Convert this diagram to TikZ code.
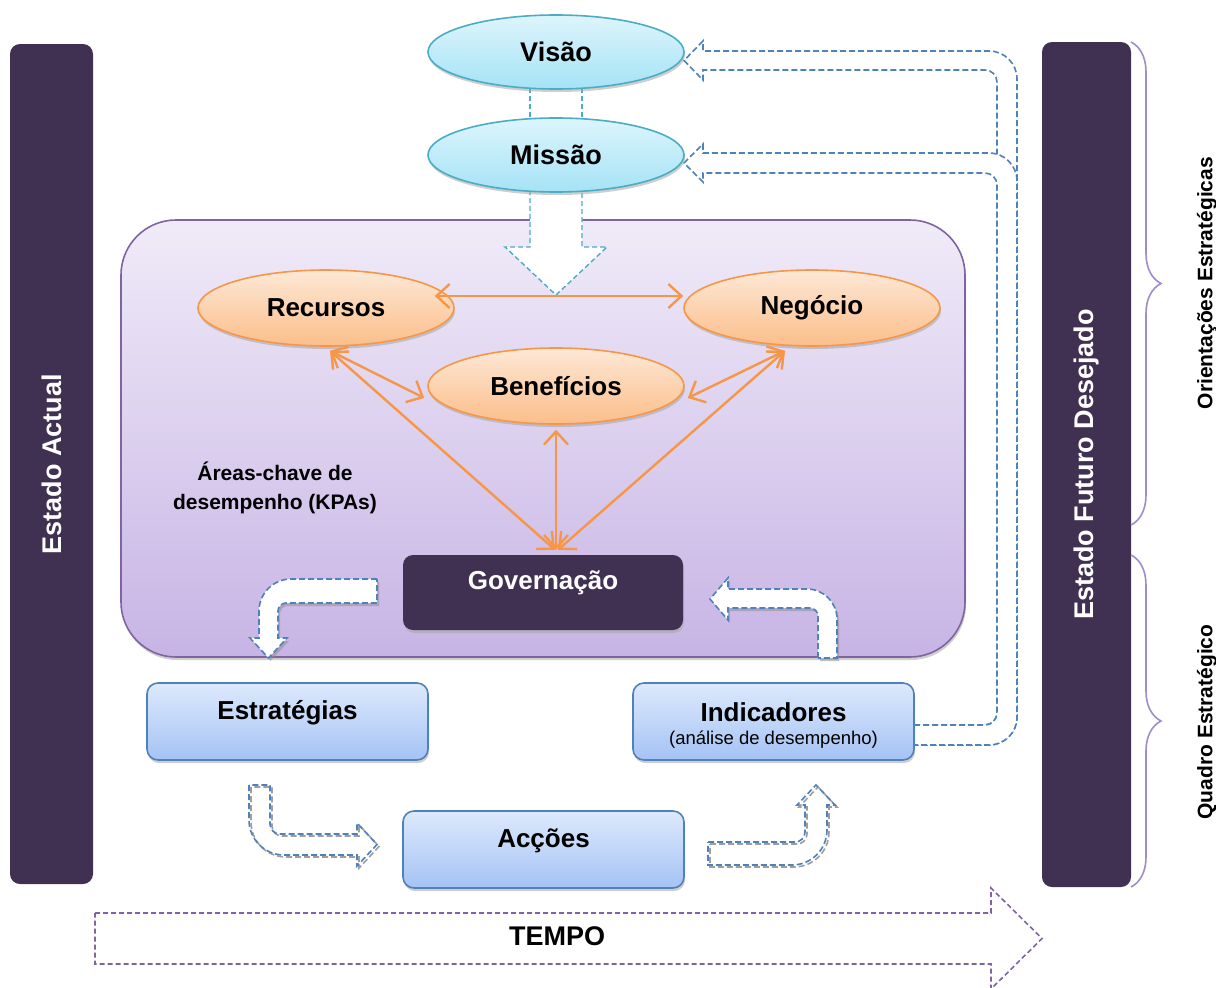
\documentclass[tikz,border=0pt]{standalone}
\usepackage{fontspec}
\setmainfont{Liberation Sans}
\usetikzlibrary{shapes.geometric,shadows,arrows.meta,decorations.pathreplacing}

\definecolor{darkbar}{HTML}{403152}
\definecolor{tealline}{HTML}{4BACC6}
\definecolor{cyantop}{HTML}{DDF5FC}
\definecolor{cyanbot}{HTML}{A5E3F6}
\definecolor{orangeline}{HTML}{F79646}
\definecolor{orangetop}{HTML}{FDE8D6}
\definecolor{orangebot}{HTML}{FBBE8A}
\definecolor{kpaline}{HTML}{8064A2}
\definecolor{kpatop}{HTML}{F0EBF8}
\definecolor{kpabot}{HTML}{C7B4E5}
\definecolor{blueline}{HTML}{4F81BD}
\definecolor{bluetop}{HTML}{DDE9FC}
\definecolor{bluebot}{HTML}{A5C3F5}
\definecolor{braceline}{HTML}{A08CC8}

\newcommand\myfs[2]{\fontsize{#1}{#2}\selectfont}

\begin{document}
\begin{tikzpicture}[x=1pt,y=-1pt,
  softshadow/.style={drop shadow={shadow xshift=1pt, shadow yshift=-3pt, fill=black!35, opacity=.55}},
  statebar/.style={fill=darkbar, rounded corners=10pt, text=white, font=\bfseries\myfs{27}{32}, rotate=90},
  cyanoval/.style={ellipse, draw=tealline, line width=1.6pt, top color=cyantop, bottom color=cyanbot,
    minimum width=256pt, minimum height=74pt, font=\bfseries\myfs{27}{32}, softshadow},
  orangeoval/.style={ellipse, draw=orangeline, line width=1.6pt, top color=orangetop, bottom color=orangebot,
    minimum width=256pt, minimum height=76pt, font=\bfseries\myfs{26}{31}, softshadow},
  bluebox/.style={rectangle, rounded corners=11pt, draw=blueline, line width=1.6pt, top color=bluetop,
    bottom color=bluebot, minimum width=281pt, minimum height=77pt, softshadow},
  boxtext/.style={font=\bfseries\myfs{26}{31}},
  link/.style={draw=orangeline, line width=2.4pt,
    {Straight Barb[length=13pt,width=24pt]}-{Straight Barb[length=13pt,width=24pt]}},
  tealdash/.style={draw=tealline, line width=1.4pt, dash pattern=on 5pt off 3pt},
  bluedash/.style={draw=blueline, line width=1.6pt, dash pattern=on 6pt off 3pt},
  greydash/.style={draw=black!38, line width=1.6pt, dash pattern=on 6pt off 3pt},
  bentarrow/.style={fill=white, bluedash, drop shadow={shadow xshift=2pt, shadow yshift=-3pt, fill=black!45}},
  bracestyle/.style={draw=braceline, line width=1.6pt, decorate, decoration={brace, amplitude=30pt}},
  sidelabel/.style={rotate=90, font=\bfseries\myfs{21}{25}}
]
\useasboundingbox[fill=white] (0,0) rectangle (1216,988);

% ---- side bars ----
\node[statebar, minimum width=840pt, minimum height=83pt] (actual) at (51.5,464) {Estado Actual};
\node[statebar, minimum width=845pt, minimum height=89pt] (futuro) at (1086.5,464.5) {Estado Futuro Desejado};

% ---- braces and their labels ----
\draw[bracestyle] (1131,42) -- (1131,525);
\draw[bracestyle] (1131,555) -- (1131,887);
\node[sidelabel] (ori) at (1207,283) {Orientações Estratégicas};
\node[sidelabel] (quadro) at (1207,722) {Quadro Estratégico};

% ---- key performance areas panel ----
\node[rectangle, rounded corners=55pt, draw=kpaline, line width=1.6pt, top color=kpatop, bottom color=kpabot,
  minimum width=844pt, minimum height=437pt, softshadow] (kpa) at (543,438.5) {};
\node[font=\bfseries\myfs{21}{29}, align=center] (kpalabel) at (275,488) {Áreas-chave de\\desempenho (KPAs)};

% ---- feedback arrows: Indicadores -> Visão / Missão ----
\filldraw[fill=white, bluedash]
  (914,725) -- (985,725) arc[start angle=90, end angle=0, radius=12]
  -- (997,82) arc[start angle=0, end angle=-90, radius=12]
  -- (703,70) -- (703,80) -- (684,60.5) -- (703,41) -- (703,51)
  -- (989,51) arc[start angle=-90, end angle=0, radius=28]
  -- (1017,717) arc[start angle=0, end angle=90, radius=28]
  -- (914,745);
\filldraw[fill=white, bluedash]
  (914,725) -- (985,725) arc[start angle=90, end angle=0, radius=12]
  -- (997,185) arc[start angle=0, end angle=-90, radius=12]
  -- (703,173) -- (703,182) -- (684,163) -- (703,144) -- (703,153)
  -- (989,153) arc[start angle=-90, end angle=0, radius=28]
  -- (1017,717) arc[start angle=0, end angle=90, radius=28]
  -- (914,745);

% ---- Visão / Missão ----
\draw[tealdash] (530,88) -- (530,120);
\draw[tealdash] (582,88) -- (582,120);
\filldraw[fill=white, tealdash]
  (530,190) -- (530,247) -- (505,247) -- (556,295) -- (607,247) -- (582,247) -- (582,190);
\node[cyanoval] (vis) at (556,52) {Visão};
\node[cyanoval] (mis) at (556,155) {Missão};

% ---- areas ----
\node[orangeoval] (rec) at (326,308) {Recursos};
\node[orangeoval] (neg) at (812,308) {Negócio};
\node[orangeoval] (ben) at (556,386) {Benefícios};

% ---- governance ----
\node[rectangle, rounded corners=10pt, fill=darkbar, minimum width=280pt, minimum height=75pt, softshadow] (gov) at (543,592.5) {};
\node[text=white, boxtext] (govtext) at ([yshift=10pt]gov.center) {Governação};

% ---- relations between areas ----
\draw[link] ([shift={(-20,-12)}]rec.east) -- ([shift={(0,-12)}]neg.west);
\draw[link] ([shift={(4,4)}]rec.south) -- ([shift={(-3,12)}]ben.west);
\draw[link] ([shift={(-27,4)}]neg.south) -- ([shift={(3,12)}]ben.east);
\draw[link] ([shift={(0,5)}]ben.south) -- ([shift={(13,-5)}]gov.north);
\draw[link] ([shift={(4,4)}]rec.south) -- ([shift={(12,-5)}]gov.north);
\draw[link] ([shift={(-27,4)}]neg.south) -- ([shift={(15,-5)}]gov.north);

% ---- bent arrows around governance ----
\filldraw[bentarrow]
  (377,579) -- (291,579) arc[start angle=-90, end angle=-180, radius=32]
  -- (259,638) -- (250,638) -- (268.5,658) -- (287,638) -- (278,638)
  -- (278,611) arc[start angle=180, end angle=270, radius=8]
  -- (377,603) -- cycle;
\filldraw[bentarrow]
  (818,658) -- (818,616) arc[start angle=0, end angle=-90, radius=8]
  -- (728,608) -- (728,620) -- (710,599) -- (728,578) -- (728,589)
  -- (807,589) arc[start angle=-90, end angle=0, radius=30]
  -- (837,658) -- cycle;

% ---- strategy, actions, indicators ----
\node[bluebox] (est) at (287.5,721.5) {};
\node[boxtext] (esttext) at ([yshift=9pt]est.center) {Estratégias};
\node[bluebox] (ind) at (773.5,721.5) {};
\node[boxtext] (indtext) at ([yshift=9pt]ind.center) {Indicadores};
\node[font=\myfs{18.5}{22}] (indsub) at ([yshift=-18pt]ind.center) {(análise de desempenho)};
\node[bluebox] (acc) at (543.5,849.5) {};
\node[boxtext] (acctext) at ([yshift=9pt]acc.center) {Acções};

% ---- double dashed bent arrows around Acções ----
\foreach \st/\dx in {greydash/2, bluedash/0}{
  \draw[\st, shift={(\dx,\dx)}]
    (249,785) -- (249,820) arc[start angle=180, end angle=90, radius=35]
    -- (357,855) -- (357,866) -- (377,844.5) -- (357,823) -- (357,834)
    -- (280,834) arc[start angle=90, end angle=180, radius=10]
    -- (270,785) -- cycle;
  \draw[\st, shift={(\dx,\dx)}]
    (708,842) -- (795,842) arc[start angle=90, end angle=0, radius=10]
    -- (805,805) -- (797,805) -- (816,785) -- (835,805) -- (827,805)
    -- (827,830) arc[start angle=0, end angle=90, radius=35]
    -- (708,865) -- cycle;
}

% ---- time axis ----
\draw[draw=kpaline, line width=1.6pt, dash pattern=on 5pt off 3pt]
  (95,913) -- (991,913) -- (991,888) -- (1042,938.5) -- (991,989) -- (991,964) -- (95,964) -- cycle;
\node[font=\bfseries\myfs{27}{32}] (tempo) at (557,936) {TEMPO};
\end{tikzpicture}
\end{document}
